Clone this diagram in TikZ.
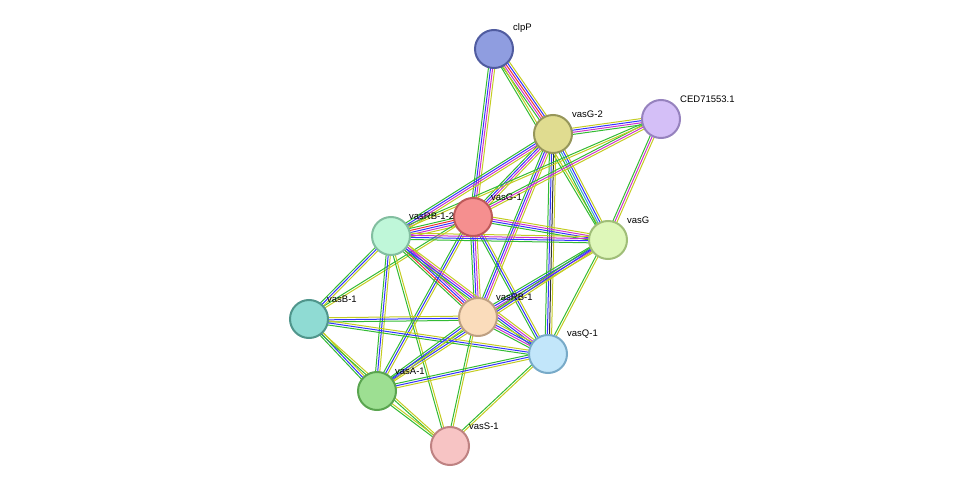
\documentclass[tikz,border=0pt]{standalone}
\usepackage{fontspec}
\setmainfont{Liberation Sans}
\usetikzlibrary{calc}
\definecolor{eg}{HTML}{33BB33}
\definecolor{eb}{HTML}{3333FF}
\definecolor{ep}{HTML}{CC33CC}
\definecolor{ey}{HTML}{C4CC22}
\definecolor{ec}{HTML}{33AACC}
\definecolor{ek}{HTML}{333333}
\definecolor{er}{HTML}{EE3333}
\tikzset{prot/.style={circle,minimum size=38pt,inner sep=0pt,line width=2pt},
 lab/.style={font=\fontsize{9.5pt}{10pt}\selectfont,anchor=south west,inner sep=0pt}}
\newcommand\edg[3]{%
 \foreach \c [count=\i] in {#3} {%
  \pgfmathsetmacro\o{(\i-2.5)*2.1}%
  \draw[\c,line width=1pt] ($(#1)!\o pt!90:(#2)$) -- ($(#2)!\o pt!-90:(#1)$);}}
\begin{document}
\begin{tikzpicture}[x=1pt,y=-1pt]
\useasboundingbox (0,0) rectangle (975,492);
\coordinate (clpP) at (494,49);
\coordinate (vG2) at (553,134);
\coordinate (CED) at (661,119);
\coordinate (vG1) at (473,217);
\coordinate (vR12) at (391,236);
\coordinate (vG) at (608,240);
\coordinate (vB1) at (309,319);
\coordinate (vR1) at (478,317);
\coordinate (vQ1) at (548,354);
\coordinate (vA1) at (377,391);
\coordinate (vS1) at (450,446);
% edges
\edg{clpP}{vG2}{eg,ep,er,eb,ey}
\edg{clpP}{vG1}{eg,eb,ep,ey}
\edg{clpP}{vG}{eg,ey}
\edg{vG2}{CED}{eg,ep,eb,ey}
\edg{vG2}{vG1}{eg,eb,ep,ey}
\edg{vG2}{vR12}{eg,eb,ep,ey}
\edg{vG2}{vG}{eg,ec,eb,ey}
\edg{vG2}{vR1}{eg,eb,ep,ey}
\edg{vG2}{vQ1}{eg,eb,ek,ey}
\edg{CED}{vG1}{eg,ep,ey}
\edg{CED}{vG}{eg,ep,ey}
\edg{CED}{vR12}{eg,ey}
\edg{vG1}{vR12}{eg,er,eb,ep,ey}
\edg{vG1}{vG}{eg,eb,ep,ey}
\edg{vG1}{vR1}{eg,eb,ep,ey}
\edg{vG1}{vQ1}{eg,eb,ey}
\edg{vG1}{vA1}{eg,eb,ey}
\edg{vG1}{vB1}{eg,ey}
\edg{vR12}{vG}{eg,eb,ep,ey}
\edg{vR12}{vB1}{eg,eb,ey}
\edg{vR12}{vR1}{eg,er,eb,ep,ey}
\edg{vR12}{vQ1}{eg,eb,ep,ey}
\edg{vR12}{vA1}{eg,eb,ey}
\edg{vR12}{vS1}{eg,ey}
\edg{vG}{vR1}{eg,eb,ep,ey}
\edg{vG}{vQ1}{eg,ey}
\edg{vG}{vA1}{eg,eb,ey}
\edg{vB1}{vR1}{eg,eb,ey}
\edg{vB1}{vQ1}{eg,eb,ey}
\edg{vB1}{vA1}{eg,eb,ey}
\edg{vB1}{vS1}{eg,ey}
\edg{vR1}{vQ1}{eg,ep,eb,ey}
\edg{vR1}{vA1}{eg,eb,ey}
\edg{vR1}{vS1}{eg,ey}
\edg{vQ1}{vA1}{eg,eb,ey}
\edg{vQ1}{vS1}{eg,ey}
\edg{vA1}{vS1}{eg,ey}
% nodes
\node[prot,fill={rgb,255:red,143;green,157;blue,224},draw={rgb,255:red,80;green,92;blue,160}] (n1) at (clpP) {};
\node[prot,fill={rgb,255:red,224;green,220;blue,144},draw={rgb,255:red,150;green,150;blue,90}] (n2) at (vG2) {};
\node[prot,fill={rgb,255:red,212;green,191;blue,247},draw={rgb,255:red,150;green,130;blue,190}] (n3) at (CED) {};
\node[prot,fill={rgb,255:red,245;green,143;blue,143},draw={rgb,255:red,190;green,90;blue,90}] (n4) at (vG1) {};
\node[prot,fill={rgb,255:red,191;green,247;blue,217},draw={rgb,255:red,130;green,190;blue,160}] (n5) at (vR12) {};
\node[prot,fill={rgb,255:red,222;green,247;blue,185},draw={rgb,255:red,160;green,190;blue,120}] (n6) at (vG) {};
\node[prot,fill={rgb,255:red,143;green,219;blue,211},draw={rgb,255:red,80;green,150;blue,140}] (n7) at (vB1) {};
\node[prot,fill={rgb,255:red,250;green,220;blue,187},draw={rgb,255:red,190;green,160;blue,130}] (n8) at (vR1) {};
\node[prot,fill={rgb,255:red,194;green,230;blue,250},draw={rgb,255:red,120;green,170;blue,200}] (n9) at (vQ1) {};
\node[prot,fill={rgb,255:red,157;green,223;blue,146},draw={rgb,255:red,90;green,165;blue,80}] (n10) at (vA1) {};
\node[prot,fill={rgb,255:red,247;green,196;blue,196},draw={rgb,255:red,190;green,130;blue,130}] (n11) at (vS1) {};
% labels
\node[lab] (l1) at (513,33) {clpP};
\node[lab] (l2) at (572,118) {vasG-2};
\node[lab] (l3) at (680,103) {CED71553.1};
\node[lab] (l4) at (491,201) {vasG-1};
\node[lab] (l5) at (409,220) {vasRB-1-2};
\node[lab] (l6) at (627,224) {vasG};
\node[lab] (l7) at (327,303) {vasB-1};
\node[lab] (l8) at (496,301) {vasRB-1};
\node[lab] (l9) at (567,338) {vasQ-1};
\node[lab] (l10) at (395,375) {vasA-1};
\node[lab] (l11) at (469,430) {vasS-1};
\end{tikzpicture}
\end{document}
